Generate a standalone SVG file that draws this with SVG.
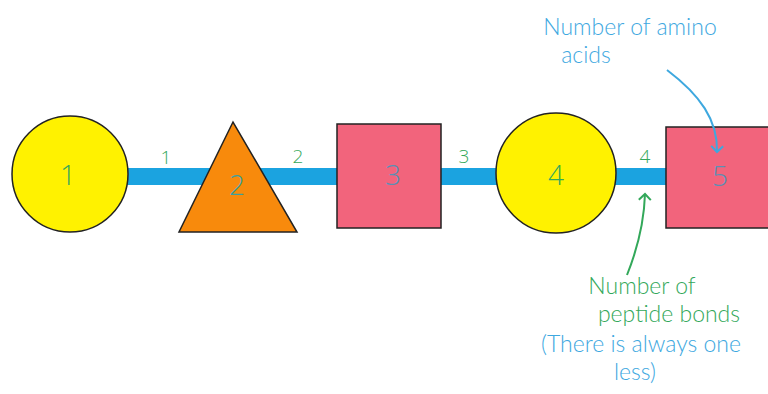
<svg xmlns="http://www.w3.org/2000/svg" width="768" height="394" viewBox="0 0 768 394">
<defs>
<style>
.node{stroke:#222;stroke-width:1.5}
.yel{fill:#fff200}
.org{fill:#f88a0c}
.pnk{fill:#f2647c}
.t{font-family:"Open Sans","Liberation Sans",sans-serif;font-weight:300;text-anchor:middle}
.num{font-size:28px}
.lbl{font-size:19px}
.note{font-family:Lato,"Liberation Sans",sans-serif;font-size:23px;font-weight:300}
.g{fill:#33a85a}
.b{fill:#3ea8df}
.s{fill:#5a8fb5}
.teal{fill:#3aa0a0}
</style>
<marker id="ab" markerWidth="14" markerHeight="14" refX="7" refY="7" orient="auto" markerUnits="userSpaceOnUse">
<path d="M1,1 L7,7 L1,13" fill="none" stroke="#3ea8df" stroke-width="2"/>
</marker>
<marker id="ag" markerWidth="14" markerHeight="14" refX="7" refY="7" orient="auto" markerUnits="userSpaceOnUse">
<path d="M1,1 L7,7 L1,13" fill="none" stroke="#33a85a" stroke-width="2"/>
</marker>
</defs>
<rect width="768" height="394" fill="#fff"/>
<g id="connectors">
<rect x="120" y="168" width="548" height="17" fill="#1ba3e0"/>
<text class="t lbl g" x="166" y="164">1</text>
<text class="t lbl g" x="298" y="163">2</text>
<text class="t lbl g" x="464" y="163">3</text>
<text class="t lbl g" x="645" y="163">4</text>
</g>
<g id="n1"><circle class="node yel" cx="70" cy="174" r="58"/><text class="t num g" x="68" y="185">1</text></g>
<g id="n2"><polygon class="node org" points="233,122 179,232 297,232"/><text class="t num teal" x="237" y="195">2</text></g>
<g id="n3"><rect class="node pnk" x="337" y="124" width="104" height="104"/><text class="t num s" x="393" y="185">3</text></g>
<g id="n4"><circle class="node yel" cx="556" cy="173" r="60"/><text class="t num g" x="556" y="185">4</text></g>
<g id="n5"><rect class="node pnk" x="666" y="127" width="104" height="101"/><text class="t num s" x="720" y="186">5</text></g>
<g id="annotations">
<path d="M667,70 C700,95 718,120 717,152" fill="none" stroke="#3ea8df" stroke-width="2" marker-end="url(#ab)"/>
<path d="M627,275 C635,255 644,225 645,194" fill="none" stroke="#33a85a" stroke-width="2" marker-end="url(#ag)"/>
<text class="t note b" x="630" y="35">Number of amino</text>
<text class="t note b" x="586" y="63">acids</text>
<text class="t note g" x="642" y="294">Number of</text>
<text class="t note g" x="669" y="322">peptide bonds</text>
<text class="t note b" x="641" y="352">(There is always one</text>
<text class="t note b" x="635" y="380">less)</text>
</g>
</svg>
